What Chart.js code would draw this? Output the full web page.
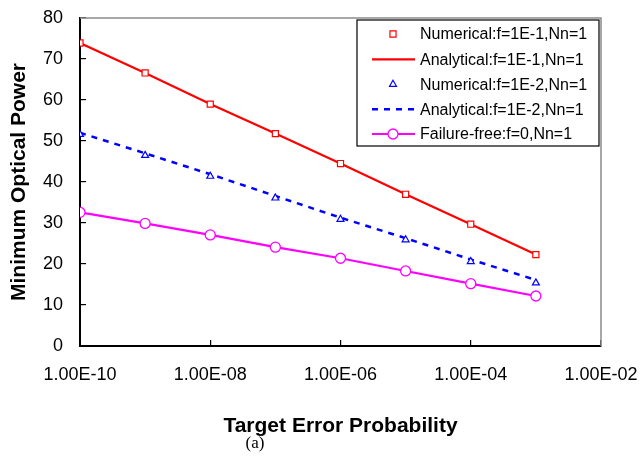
<!DOCTYPE html>
<html><head><meta charset="utf-8">
<script src="https://cdn.jsdelivr.net/npm/chart.js@4/dist/chart.umd.min.js"></script>
<style>html,body{margin:0;padding:0;background:#fff}#wrap{width:642px;height:462px;position:relative}</style>
</head><body><div id="wrap"><canvas id="c" width="642" height="462"></canvas></div>
<script>
// ---- data ----
const errorProbs = [1e-10, 1e-9, 1e-8, 1e-7, 1e-6, 1e-5, 1e-4, 1e-3];
const numericalF1 = [73.9, 66.6, 59.0, 51.8, 44.5, 37.0, 29.7, 22.3];
const analyticalF1 = [73.9, 66.6, 59.0, 51.8, 44.5, 37.0, 29.7, 22.3];
const numericalF2 = [51.6, 46.5, 41.4, 36.1, 30.9, 25.9, 20.6, 15.4];
const analyticalF2 = [52.0, 47.0, 41.9, 36.6, 31.3, 26.3, 21.1, 16.1];
const failureFree = [32.6, 29.9, 27.1, 24.1, 21.4, 18.3, 15.2, 12.2];
const xTickValues = [1e-10, 1e-8, 1e-6, 1e-4, 1e-2];
const seriesNames = [
  'Numerical:f=1E-1,Nn=1',
  'Analytical:f=1E-1,Nn=1',
  'Numerical:f=1E-2,Nn=1',
  'Analytical:f=1E-2,Nn=1',
  'Failure-free:f=0,Nn=1'
];
const xTitle = 'Target Error Probability';
const yTitle = 'Minimum Optical Power';
const caption = '(a)';

const pts = arr => errorProbs.map((x, i) => ({x: x, y: arr[i]}));
function fmtExp(v) {
  const e = Math.round(Math.log10(v));
  const m = v / Math.pow(10, e);
  return m.toFixed(2) + 'E' + (e < 0 ? '-' : '+') + String(Math.abs(e)).padStart(2, '0');
}

const SANS = '"Liberation Sans", Arial, sans-serif';
const RED = '#FF0000', BLUE = '#0000FF', MAG = '#FF00FF';

const datasets = [
  {label: seriesNames[0], data: pts(numericalF1), showLine: false, pointStyle: 'rect',
   pointRadius: 4.3, pointBorderWidth: 1.2, pointBorderColor: RED, pointBackgroundColor: '#fff', borderColor: RED},
  {label: seriesNames[1], data: pts(analyticalF1), showLine: true, borderColor: RED, borderWidth: 2.2,
   pointRadius: 0, tension: 0},
  {label: seriesNames[2], data: pts(numericalF2), showLine: false, pointStyle: 'triangle',
   pointRadius: 4, pointBorderWidth: 1.2, pointBorderColor: BLUE, pointBackgroundColor: '#fff', borderColor: BLUE},
  {label: seriesNames[3], data: pts(analyticalF2), showLine: true, borderColor: BLUE, borderWidth: 2.5,
   borderDash: [6, 6], pointRadius: 0, tension: 0},
  {label: seriesNames[4], data: pts(failureFree), showLine: true, borderColor: MAG, borderWidth: 2.2,
   pointStyle: 'circle', pointRadius: 5, pointBorderWidth: 1.3, pointBorderColor: MAG, pointBackgroundColor: '#fff', tension: 0}
];

const framePlugin = {
  id: 'frame',
  beforeDatasetsDraw(chart) {
    const {ctx, chartArea: a} = chart;
    ctx.save();
    ctx.strokeStyle = '#8c8c8c';
    ctx.lineWidth = 1.5;
    ctx.beginPath();
    ctx.moveTo(a.left, a.top); ctx.lineTo(a.right, a.top); ctx.lineTo(a.right, a.bottom);
    ctx.stroke();
    ctx.restore();
  },
  afterDraw(chart) {
    const ctx = chart.ctx;
    ctx.save();
    // legend box
    const bx = 357, by = 20, bw = 242, bh = 126;
    ctx.fillStyle = '#fff';
    ctx.fillRect(bx, by, bw, bh);
    ctx.strokeStyle = '#000';
    ctx.lineWidth = 1.2;
    ctx.strokeRect(bx, by, bw, bh);
    const rows = [34, 59.3, 84.3, 109.3, 134];
    chart.data.datasets.forEach((ds, i) => {
      const y = rows[i];
      if (ds.showLine) {
        ctx.save();
        ctx.strokeStyle = ds.borderColor;
        ctx.lineWidth = ds.borderWidth;
        ctx.setLineDash(ds.borderDash || []);
        ctx.beginPath(); ctx.moveTo(372, y); ctx.lineTo(415, y); ctx.stroke();
        ctx.restore();
      }
      if (ds.pointRadius > 0) {
        ctx.save();
        ctx.strokeStyle = ds.pointBorderColor;
        ctx.fillStyle = ds.pointBackgroundColor;
        ctx.lineWidth = ds.pointBorderWidth;
        Chart.helpers.drawPoint(ctx, {pointStyle: ds.pointStyle, radius: ds.pointRadius, borderWidth: ds.pointBorderWidth}, 393, y);
        ctx.restore();
      }
      ctx.fillStyle = '#000';
      ctx.font = '16px ' + SANS;
      ctx.textBaseline = 'middle';
      ctx.textAlign = 'left';
      ctx.fillText(ds.label, 420, y + 1);
    });
    // caption
    ctx.font = '17px "Liberation Serif", "Times New Roman", serif';
    ctx.textAlign = 'center';
    ctx.textBaseline = 'middle';
    ctx.fillStyle = '#000';
    ctx.fillText(caption, 255, 444);
    ctx.restore();
  }
};

function noPad(s) { s.paddingTop = 0; s.paddingBottom = 0; s.paddingLeft = 0; s.paddingRight = 0; }

new Chart(document.getElementById('c'), {
  type: 'scatter',
  data: {datasets: datasets},
  plugins: [framePlugin],
  options: {
    responsive: false,
    devicePixelRatio: 1,
    animation: false,
    layout: {padding: {top: 18, right: 41, bottom: 20, left: 0}},
    plugins: {legend: {display: false}, tooltip: {enabled: false}},
    scales: {
      x: {
        type: 'logarithmic', min: 1e-10, max: 1e-2,
        afterBuildTicks: s => { s.ticks = xTickValues.map(v => ({value: v})); },
        afterFit: s => { s.height = 96; noPad(s); },
        ticks: {callback: v => fmtExp(v), color: '#000', font: {family: SANS, size: 18}, padding: 24, maxRotation: 0, autoSkip: false},
        grid: {display: true, drawOnChartArea: false, drawTicks: true, tickLength: -6, color: '#000', lineWidth: 1.2},
        border: {display: true, color: '#000', width: 2},
        title: {display: true, text: xTitle, color: '#000', font: {family: SANS, size: 21, weight: 'bold'}, padding: {top: 0, bottom: 3}}
      },
      y: {
        min: 0, max: 80,
        afterFit: s => { s.width = 80; noPad(s); },
        ticks: {stepSize: 10, color: '#000', font: {family: SANS, size: 18}, padding: 23},
        grid: {display: true, drawOnChartArea: false, drawTicks: true, tickLength: -6, color: '#000', lineWidth: 1.2},
        border: {display: true, color: '#000', width: 2},
        title: {display: true, text: yTitle, color: '#000', font: {family: SANS, size: 21, weight: 'bold'}, padding: {top: 7, bottom: 0}}
      }
    }
  }
});
</script>
</body></html>
